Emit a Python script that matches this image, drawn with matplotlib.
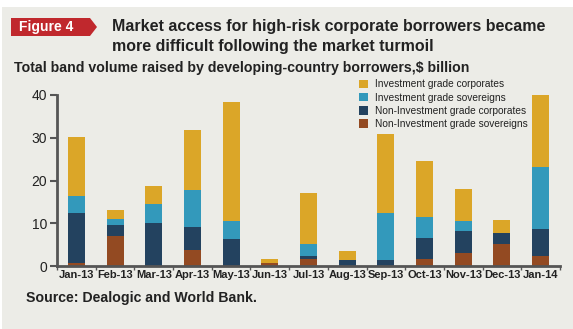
import numpy as np
import matplotlib.pyplot as plt
from matplotlib.patches import Rectangle, Polygon

# Data ($ billion)
months = ['Jan-13', 'Feb-13', 'Mar-13', 'Apr-13', 'May-13', 'Jun-13', 'Jul-13',
          'Aug-13', 'Sep-13', 'Oct-13', 'Nov-13', 'Dec-13', 'Jan-14']
nig_sov = [0.6, 7.0, 0.0, 3.7, 0.0, 0.6, 1.6, 0.0, 0.0, 1.6, 3.0, 5.1, 2.3]
nig_corp = [11.7, 2.7, 10.0, 5.4, 6.3, 0.0, 0.7, 1.3, 1.3, 4.9, 5.1, 2.6, 6.3]
ig_sov = [4.0, 1.4, 4.5, 8.7, 4.2, 0.0, 2.8, 0.0, 11.0, 4.9, 2.4, 0.0, 14.5]
ig_corp = [13.8, 1.9, 4.2, 14.0, 27.8, 1.0, 11.9, 2.1, 18.5, 13.1, 7.5, 3.0, 16.9]

plt.rcParams['font.family'] = ['Liberation Sans', 'DejaVu Sans']
narrow = ['Liberation Sans Narrow', 'Liberation Sans']

bg = '#ECECE7'
fig = plt.figure(figsize=(5.73, 3.29), dpi=100, facecolor='white')
fig.patches.append(Rectangle((2/573, 0), 1, 1 - 6.5/329, transform=fig.transFigure,
                             facecolor=bg, edgecolor='none', zorder=-10))

ax = fig.add_axes([57/573, 1 - 266/329, 503/573, 171/329])
ax.set_facecolor(bg)

x = np.arange(len(months))
w = 0.44
series = [('Non-Investment grade sovereigns', nig_sov, '#934A22'),
          ('Non-Investment grade corporates', nig_corp, '#23425F'),
          ('Investment grade sovereigns', ig_sov, '#3399BB'),
          ('Investment grade corporates', ig_corp, '#DBA628')]
bottom = np.zeros(len(months))
handles = []
for name, vals, col in series:
    b = ax.bar(x, vals, w, bottom=bottom, color=col, label=name)
    handles.append(b)
    bottom += np.array(vals)

ax.set_xlim(-0.5, len(months) - 0.5)
ax.set_ylim(0, 40)
ax.set_yticks([0, 10, 20, 30, 40])
ax.set_xticks(x)
ax.set_xticklabels(months, fontsize=8, fontweight='bold', color='#222222', family=narrow)
ax.set_xticks(np.arange(-0.5, len(months), 1), minor=True)
ax.tick_params(axis='x', which='major', length=0, pad=3)
ax.tick_params(axis='x', which='minor', length=3, width=1, color='#555555')
ax.tick_params(axis='y', length=5, width=1.5, color='#555555', labelsize=10,
               labelcolor='#222222', pad=2)
for s in ['top', 'right']:
    ax.spines[s].set_visible(False)
for s in ['left', 'bottom']:
    ax.spines[s].set_color('#555555')
    ax.spines[s].set_linewidth(2)

leg = ax.legend(handles[::-1], [s[0] for s in series][::-1], loc='upper left',
                bbox_to_anchor=(0.592, 1.115), frameon=False,
                prop={'family': narrow, 'size': 7.3},
                handlelength=0.9, handleheight=0.9, handletextpad=0.7,
                labelspacing=0.32, borderaxespad=0)
for t in leg.get_texts():
    t.set_color('#222222')

# badge
fig.patches.append(Polygon([(11/573, 1 - 18/329), (90/573, 1 - 18/329), (97/573, 1 - 27/329),
                            (90/573, 1 - 36/329), (11/573, 1 - 36/329)], closed=True,
                           transform=fig.transFigure, facecolor='#C0282D', edgecolor='none'))
fig.text(19/573, 1 - 27/329, 'Figure 4', color='white', fontsize=10, fontweight='bold',
         va='center', ha='left')
fig.text(112/573, 1 - 30.5/329, 'Market access for high-risk corporate borrowers became',
         fontsize=11.5, fontweight='bold', color='#222222', va='baseline')
fig.text(112/573, 1 - 51.5/329, 'more difficult following the market turmoil',
         fontsize=11.5, fontweight='bold', color='#222222', va='baseline')
fig.text(14/573, 1 - 72/329, 'Total band volume raised by developing-country borrowers,$ billion',
         fontsize=10.2, fontweight='bold', color='#222222', va='baseline')
fig.text(25.5/573, 1 - 302/329, 'Source: Dealogic and World Bank.',
         fontsize=10.2, fontweight='bold', color='#222222', va='baseline')

plt.savefig('out.png', dpi=100, facecolor='white')
